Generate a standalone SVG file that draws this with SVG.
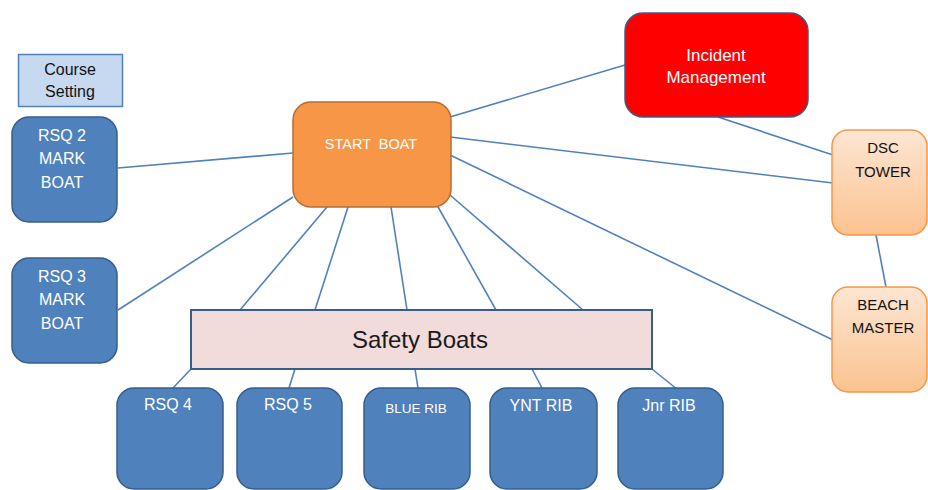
<svg xmlns="http://www.w3.org/2000/svg" width="928" height="490" viewBox="0 0 928 490">
<style>
.c{stroke:#4f81bd;stroke-width:1.6;fill:none}
.blue{fill:#4f81bd;stroke:#385d8a;stroke-width:1.5}
.peach{fill:url(#pg);stroke:#f79646;stroke-width:1.5}
text{font-family:"Liberation Sans",Arial,sans-serif;text-anchor:middle}
.w{fill:#ffffff;font-size:16px}
.k{fill:#111111;font-size:15px}
</style>
<defs>
<linearGradient id="pg" x1="0" y1="0" x2="0" y2="1">
<stop offset="0" stop-color="#fde6d3"/>
<stop offset="1" stop-color="#fbc28f"/>
</linearGradient>
</defs>
<rect width="928" height="490" fill="#ffffff"/>
<g id="connectors">
<line class="c" x1="293" y1="153" x2="118" y2="168"/>
<line class="c" x1="293" y1="197" x2="118" y2="310"/>
<line class="c" x1="450" y1="117" x2="625" y2="65"/>
<line class="c" x1="450" y1="137" x2="833" y2="183"/>
<line class="c" x1="450" y1="155" x2="833" y2="340"/>
<line class="c" x1="327" y1="207" x2="240" y2="310"/>
<line class="c" x1="348" y1="207" x2="315" y2="310"/>
<line class="c" x1="391" y1="207" x2="407" y2="310"/>
<line class="c" x1="437" y1="205" x2="496" y2="310"/>
<line class="c" x1="450" y1="195" x2="583" y2="310"/>
<line class="c" x1="718" y1="117" x2="833" y2="155"/>
<line class="c" x1="876" y1="235" x2="886" y2="287"/>
<line class="c" x1="191" y1="369" x2="173" y2="388"/>
<line class="c" x1="295" y1="369" x2="289" y2="388"/>
<line class="c" x1="415" y1="369" x2="418" y2="388"/>
<line class="c" x1="532" y1="369" x2="542" y2="388"/>
<line class="c" x1="652" y1="369" x2="678" y2="390"/>
</g>
<g id="course-setting">
<rect x="18.5" y="54.5" width="104" height="52" fill="#c6d9f1" stroke="#4f81bd" stroke-width="1.5"/>
<text x="70" y="75" class="k" style="font-size:16px">Course</text>
<text x="70" y="97" class="k" style="font-size:16px">Setting</text>
</g>
<g id="rsq2">
<rect class="blue" x="12" y="117" width="105" height="105" rx="17"/>
<text class="w" x="62" y="141">RSQ 2</text>
<text class="w" x="62" y="164">MARK</text>
<text class="w" x="62" y="188">BOAT</text>
</g>
<g id="rsq3">
<rect class="blue" x="12" y="258" width="105" height="105" rx="17"/>
<text class="w" x="62" y="282">RSQ 3</text>
<text class="w" x="62" y="305">MARK</text>
<text class="w" x="62" y="329">BOAT</text>
</g>
<g id="start-boat">
<rect x="293" y="102" width="158" height="105" rx="18" fill="#f79646" stroke="#b66d31" stroke-width="1.5"/>
<text class="w" x="371" y="149" style="font-size:14.5px" xml:space="preserve">START  BOAT</text>
</g>
<g id="incident">
<rect x="625" y="13" width="183" height="104" rx="18" fill="#ff0000" stroke="#385d8a" stroke-width="1.5"/>
<text class="w" x="716" y="61" style="font-size:17px">Incident</text>
<text class="w" x="716" y="83" style="font-size:17px">Management</text>
</g>
<g id="dsc-tower">
<rect class="peach" x="832" y="130" width="95" height="105" rx="16"/>
<text class="k" x="883" y="153">DSC</text>
<text class="k" x="883" y="177">TOWER</text>
</g>
<g id="beach-master">
<rect class="peach" x="832" y="287" width="95" height="105" rx="16"/>
<text class="k" x="883" y="310">BEACH</text>
<text class="k" x="883" y="333">MASTER</text>
</g>
<g id="safety-boats">
<rect x="191" y="310" width="461" height="59" fill="#f2dcdb" stroke="#385d8a" stroke-width="2"/>
<text x="420" y="348" style="font-size:24px;fill:#1a1a1a">Safety Boats</text>
</g>
<g id="rsq4">
<rect class="blue" x="117" y="388" width="106" height="101" rx="17"/>
<text class="w" x="168" y="410">RSQ 4</text>
</g>
<g id="rsq5">
<rect class="blue" x="237" y="388" width="105" height="101" rx="17"/>
<text class="w" x="288" y="410">RSQ 5</text>
</g>
<g id="blue-rib">
<rect class="blue" x="364" y="388" width="106" height="101" rx="17"/>
<text class="w" x="416" y="413" style="font-size:13.5px">BLUE RIB</text>
</g>
<g id="ynt-rib">
<rect class="blue" x="490" y="388" width="107" height="101" rx="17"/>
<text class="w" x="541" y="411">YNT RIB</text>
</g>
<g id="jnr-rib">
<rect class="blue" x="618" y="388" width="105" height="101" rx="17"/>
<text class="w" x="669" y="411">Jnr RIB</text>
</g>
</svg>
